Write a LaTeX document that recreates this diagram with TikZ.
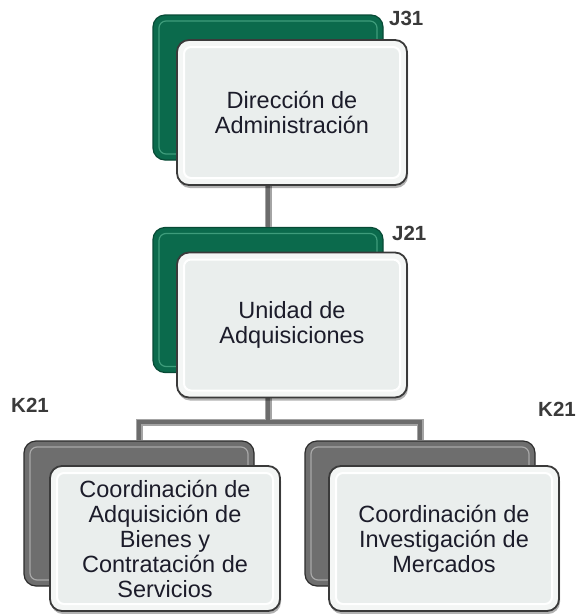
\documentclass[tikz,border=0pt]{standalone}
\usepackage{fontspec}
\setmainfont{Liberation Sans}
\usetikzlibrary{shadows,calc}
\definecolor{dgreen}{HTML}{0B6A4C}
\definecolor{dgreenedge}{HTML}{074A35}
\definecolor{lgreen}{HTML}{3E9C7B}
\definecolor{fbox}{HTML}{F4F6F5}
\definecolor{finner}{HTML}{EAEEED}
\definecolor{fedge}{HTML}{3A3A3A}
\definecolor{gback}{HTML}{6E6E6E}
\definecolor{gbevel}{HTML}{A8A8A8}
\definecolor{txt}{HTML}{1C1C2A}
\definecolor{lab}{HTML}{3A3A3A}
\definecolor{cedge}{HTML}{A4A4A4}
\definecolor{ccore}{HTML}{6C6C6C}
\begin{document}
\begin{tikzpicture}[x=1pt,y=-1pt,
  box/.style={rectangle, rounded corners=12pt, minimum width=230pt, minimum height=145pt, inner sep=0pt},
  backg/.style={box, fill=dgreen, draw=dgreenedge, line width=1.2pt,
    path picture={\draw[lgreen, line width=1.2pt, rounded corners=7pt]
      ([shift={(6pt,-6pt)}]path picture bounding box.north west) rectangle
      ([shift={(-6pt,6pt)}]path picture bounding box.south east);}},
  backk/.style={box, fill=gback, draw=gray!35!black, line width=1.2pt,
    path picture={\draw[gbevel, line width=1.2pt, rounded corners=7pt]
      ([shift={(6pt,-6pt)}]path picture bounding box.north west) rectangle
      ([shift={(-6pt,6pt)}]path picture bounding box.south east);}},
  front/.style={box, fill=fbox, draw=fedge, line width=1.8pt,
    drop shadow={opacity=0.3, shadow xshift=1pt, shadow yshift=-3pt, fill=black},
    path picture={\draw[white, line width=2pt, fill=finner, rounded corners=7pt]
      ([shift={(7pt,-7pt)}]path picture bounding box.north west) rectangle
      ([shift={(-7pt,7pt)}]path picture bounding box.south east);},
    font=\fontsize{23.5}{25}\selectfont, text=txt, align=center},
  conndark/.style={draw=cedge, line width=7pt},
  connlight/.style={draw=ccore, line width=4pt},
  lbl/.style={font=\bfseries\fontsize{20.5}{20.5}\selectfont, text=lab, inner sep=0pt}
]
\useasboundingbox (0,0) rectangle (578,614);
% back boxes
\node[backg] (d1b) at (268,87.5) {};
\node[backg] (u1b) at (268,300) {};
\node[backk] (k1b) at (139,513.5) {};
\node[backk] (k2b) at (420,513.5) {};
% connectors
\coordinate (jn) at ($(u1b.south)+(0,49)$);
\draw[conndark] (d1b.south) -- (u1b.north);
\draw[conndark] (u1b.south) -- (jn);
\draw[conndark] (k1b.north) |- (jn) -| (k2b.north);
\draw[connlight] (d1b.south) -- (u1b.north);
\draw[connlight] (u1b.south) -- (jn);
\draw[connlight] (k1b.north) |- (jn) -| (k2b.north);
% front boxes
\node[front] (d1) at (292,112.5) {Dirección de\\Administración};
\node[front] (u1) at (292,325) {Unidad de\\Adquisiciones};
\node[front] (k1) at (165,538.5) {Coordinación de\\Adquisición de\\Bienes y\\Contratación de\\Servicios};
\node[front] (k2) at (444,538.5) {Coordinación de\\Investigación de\\Mercados};
% labels
\node[lbl, anchor=west] (lj31) at (389,18) {J31};
\node[lbl, anchor=west] (lj21) at (392,233) {J21};
\node[lbl, anchor=west] (lk21a) at (11,405) {K21};
\node[lbl, anchor=west] (lk21b) at (538,409) {K21};
\end{tikzpicture}
\end{document}
